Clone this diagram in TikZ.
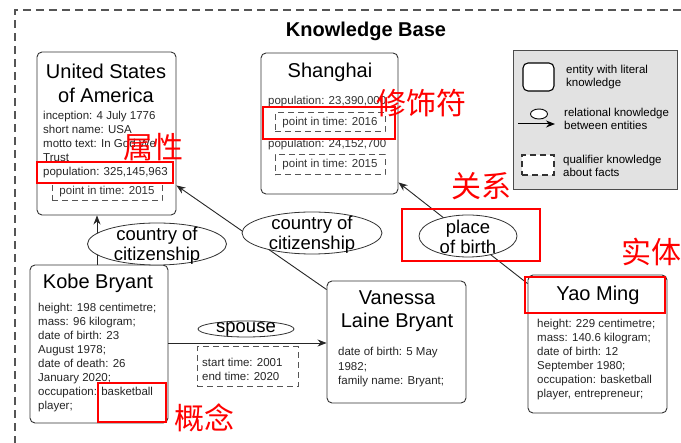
\documentclass[tikz,border=0pt]{standalone}
\usepackage{fontspec}
\setmainfont{Liberation Sans}
\newfontfamily\cjkfont{Noto Sans CJK SC}
\usetikzlibrary{arrows.meta,calc,shapes.geometric}
\definecolor{boxline}{HTML}{333333}
\definecolor{dashgray}{HTML}{555555}
\definecolor{leggray}{HTML}{E2E2E2}
\definecolor{annred}{HTML}{FF0000}
\begin{document}
\begin{tikzpicture}[x=1pt,y=-1pt,
  ebox/.style={draw=boxline,line width=0.9pt,rounded corners=5pt,inner sep=0pt,fill=white},
  qbox/.style={draw=dashgray,line width=1pt,dash pattern=on 6pt off 4pt,inner sep=0pt},
  rel/.style={ellipse,draw=boxline,line width=0.8pt,fill=white,inner sep=0pt},
  titletext/.style={font=\fontsize{20}{24}\selectfont,align=center,inner sep=0pt},
  detail/.style={font=\fontsize{11.5}{14}\selectfont,align=left,anchor=north west,inner sep=0pt,text=black!85},
  qtext/.style={font=\fontsize{11.5}{14}\selectfont,inner sep=0pt,text=black!80},
  reltext/.style={font=\fontsize{18.5}{20}\selectfont,align=center,inner sep=0pt},
  legtext/.style={font=\fontsize{11.5}{13}\selectfont,align=left,anchor=west,inner sep=0pt},
  arr/.style={draw=black!85,line width=0.9pt,-{Stealth[length=9pt,width=7pt]}},
  redbox/.style={draw=annred,line width=2.6pt},
  redlabel/.style={font=\cjkfont\fontsize{30}{32}\selectfont,text=annred,inner sep=0pt}
]
\useasboundingbox (0,0) rectangle (681,443);
\fill[white] (0,0) rectangle (681,443);
% outer dashed frame (extends beyond the picture)
\draw[draw=dashgray,line width=1.4pt,dash pattern=on 8pt off 5pt] (15,470) -- (15,10) -- (700,10);
\node[font=\bfseries\fontsize{20}{22}\selectfont,inner sep=0pt] (kbtitle) at (366,31) {Knowledge Base};

% entity boxes
\node[ebox,minimum width=139pt,minimum height=163pt] (usa) at (106.5,133.5) {};
\node[ebox,minimum width=137pt,minimum height=141pt] (sh) at (329.5,123.5) {};
\node[ebox,minimum width=138pt,minimum height=158pt] (kobe) at (99,344) {};
\node[ebox,minimum width=139pt,minimum height=122pt] (van) at (396.5,342) {};
\node[ebox,minimum width=139pt,minimum height=138pt] (yao) at (597.5,344) {};

% legend
\node[draw=black!70,fill=leggray,line width=0.9pt,minimum width=164pt,minimum height=139pt,inner sep=0pt] (legend) at (595,119.5) {};
\node[ebox,line width=1.1pt,draw=black,minimum width=31pt,minimum height=28pt] (legent) at (538.5,77) {};
\node[legtext] (legentt) at (566,77.5) {entity with literal\\knowledge};
\coordinate (legA) at (518,124);
\coordinate (legB) at (555,124);
\draw[line width=1pt,-{Stealth[length=9pt,width=7pt]}] (legA) -- (legB);
\node[ellipse,draw=black,line width=0.9pt,fill=white,minimum width=17pt,minimum height=10pt,inner sep=0pt] (legrel) at (539,114) {};
\node[legtext] (legrelt) at (564,118.5) {relational knowledge\\between entities};
\node[qbox,draw=black!80,line width=1.1pt,fill=white,minimum width=32pt,minimum height=20pt] (legq) at (538,165) {};
\node[legtext] (legqt) at (563,166) {qualifier knowledge\\about facts};

% USA contents
\node[titletext] (usat) at (106,83) {United States\\of America};
\node[detail] (usad) at (43,111) {inception: 4 July 1776\\short name: USA\\motto text: In God We\\Trust\\population: 325,145,963};
\node[qbox,minimum width=110pt,minimum height=18pt] (usaq) at (107,192) {};
\node[qtext] (usaqt) at (107,192) {point in time: 2015};

% Shanghai contents
\node[titletext] (sht) at (330,72) {Shanghai};
\node[qtext,anchor=west] (shp1) at (268,102) {population: 23,390,000};
\node[qbox,minimum width=110pt,minimum height=19pt] (shq1) at (330,122.5) {};
\node[qtext] (shq1t) at (330,122.5) {point in time: 2016};
\node[qtext,anchor=west] (shp2) at (268,145) {population: 24,152,700};
\node[qbox,minimum width=110pt,minimum height=20pt] (shq2) at (330,165) {};
\node[qtext] (shq2t) at (330,165) {point in time: 2015};

% Kobe contents
\node[titletext] (kobet) at (98,283) {Kobe Bryant};
\node[detail] (kobed) at (38,303) {height: 198 centimetre;\\mass: 96 kilogram;\\date of birth: 23\\August 1978;\\date of death: 26\\January 2020;\\occupation: basketball\\player;};

% Vanessa contents
\node[titletext,font=\fontsize{20}{23}\selectfont] (vant) at (397,311.5) {Vanessa\\Laine Bryant};
\node[detail,font=\fontsize{11.5}{14.5}\selectfont] (vand) at (338,347) {date of birth: 5 May\\1982;\\family name: Bryant;};

% Yao contents
\node[titletext] (yaot) at (598,295) {Yao Ming};
\node[detail] (yaod) at (537,319) {height: 229 centimetre;\\mass: 140.6 kilogram;\\date of birth: 12\\September 1980;\\occupation: basketball\\player, entrepreneur;};

% relations
\draw[arr] ($(kobe.north)+(-2,0)$) -- ($(usa.south)+(-9.5,0)$);
\draw[arr] ($(van.north west)+(0,9)$) -- ($(usa.south east)+(0,-30)$);
\draw[arr] ($(yao.north west)+(0,9)$) -- ($(sh.south east)+(0,-12)$);
\draw[arr] ($(kobe.east)+(0,-1)$) -- ($(kobe.east -| van.west)+(0,-1)$);

\node[rel,minimum width=139pt,minimum height=42pt] (cc1) at (157,244) {};
\node[reltext] (cc1t) at (157,246) {country of\\citizenship};
\node[rel,minimum width=140pt,minimum height=42pt] (cc2) at (312,233) {};
\node[reltext] (cc2t) at (312,235) {country of\\citizenship};
\node[rel,minimum width=98pt,minimum height=42pt] (pob) at (468,236) {};
\node[reltext] (pobt) at (468,237) {place\\of birth};
\node[rel,minimum width=96pt,minimum height=16pt] (sp) at (246,329) {};
\node[reltext] (spt) at (246,329) {spouse};
\node[qbox,minimum width=101pt,minimum height=40pt] (spq) at (247.5,367) {};
\node[detail,font=\fontsize{11.5}{14}\selectfont] (spqt) at (202,358) {start time: 2001\\end time: 2020};

% red annotations
\draw[redbox] (37,162) rectangle (173,183);
\draw[redbox] (263,107) rectangle (395,139);
\draw[redbox] (402,209) rectangle (540,261);
\draw[redbox] (525,277) rectangle (665,313);
\draw[redbox] (98,383) rectangle (166,422);
\node[redlabel] (lab1) at (153,147) {属性};
\node[redlabel] (lab2) at (421,103) {修饰符};
\node[redlabel] (lab3) at (481,186) {关系};
\node[redlabel] (lab4) at (204,418) {概念};
\node[redlabel] (lab5) at (651,252) {实体};
\end{tikzpicture}
\end{document}
